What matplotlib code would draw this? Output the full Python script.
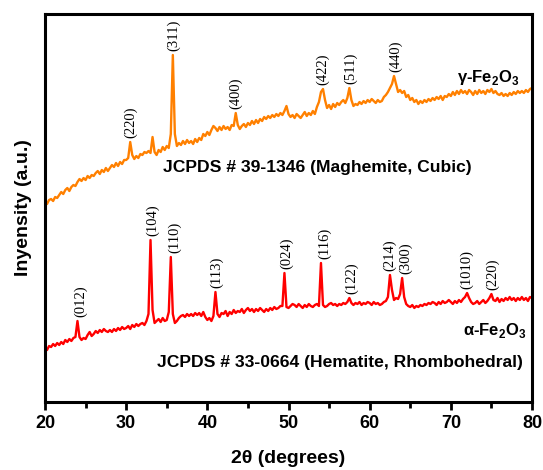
import numpy as np
import matplotlib
matplotlib.use("Agg")
import matplotlib.pyplot as plt

plt.rcParams["font.family"] = ["Liberation Sans", "DejaVu Sans"]
plt.rcParams["mathtext.fontset"] = "custom"
plt.rcParams["mathtext.rm"] = "Liberation Sans:bold"
plt.rcParams["mathtext.bf"] = "Liberation Sans:bold"

# 2theta grid, 0.25 degree steps from 20 to 80
two_theta = np.arange(20.0, 80.001, 0.25)

# gamma-Fe2O3 (maghemite) intensity, a.u.
gamma_counts = [
    200, 198, 202, 203, 201, 205, 204, 207,
    210, 208, 212, 214, 211, 215, 217, 216,
    220, 223, 221, 224, 222, 226, 224, 227,
    226, 229, 231, 228, 232, 230, 234, 231,
    234, 237, 235, 239, 236, 240, 238, 242,
    242, 244, 260, 247, 243, 246, 244, 248,
    247, 250, 249, 251, 249, 265, 250, 247,
    252, 250, 255, 252, 256, 254, 268, 347,
    268, 256, 259, 257, 261, 258, 262, 259,
    261, 258, 263, 260, 264, 262, 268, 266,
    270, 267, 272, 276, 274, 271, 275, 272,
    276, 273, 275, 272, 277, 276, 289, 277,
    273, 276, 278, 275, 279, 277, 281, 278,
    282, 279, 283, 281, 285, 283, 286, 284,
    287, 285, 288, 286, 289, 287, 291, 296,
    288, 285, 287, 284, 288, 286, 284, 287,
    290, 286, 289, 287, 291, 288, 295, 300,
    310, 313, 302, 294, 297, 293, 298, 295,
    299, 297, 300, 302, 299, 304, 314, 302,
    296, 298, 297, 300, 298, 301, 299, 302,
    300, 303, 301, 299, 302, 300, 301, 305,
    307, 310, 314, 318, 326, 318, 310, 312,
    309, 311, 305, 307, 302, 304, 300, 302,
    298, 301, 299, 302, 300, 303, 301, 304,
    302, 305, 303, 306, 302, 306, 305, 308,
    306, 310, 307, 311, 308, 312, 309, 311,
    308, 312, 310, 307, 311, 308, 312, 309,
    311, 308, 312, 310, 313, 309, 311, 308,
    307, 309, 306, 308, 306, 309, 307, 310,
    308, 311, 309, 311, 309, 312, 310, 313,
    314,
]

# alpha-Fe2O3 (hematite) intensity, a.u.
alpha_counts = [
    54, 52, 56, 55, 58, 56, 59, 57,
    60, 58, 62, 60, 63, 61, 64, 65,
    81, 65, 62, 64, 63, 67, 70, 66,
    68, 71, 69, 72, 70, 73, 71, 70,
    72, 70, 73, 71, 74, 72, 75, 73,
    74, 76, 73, 77, 75, 78, 76, 78,
    79, 77, 81, 88, 162, 92, 79, 81,
    83, 80, 84, 81, 82, 90, 145, 88,
    79, 81, 84, 86, 87, 85, 88, 86,
    88, 86, 89, 87, 89, 86, 90, 85,
    82, 84, 81, 86, 110, 88, 85, 89,
    88, 91, 86, 90, 88, 92, 89, 91,
    90, 93, 89, 92, 94, 91, 93, 90,
    93, 91, 94, 92, 90, 93, 91, 94,
    92, 95, 93, 94, 96, 96, 129, 95,
    94, 96, 98, 97, 95, 98, 96, 94,
    97, 95, 98, 96, 95, 97, 98, 96,
    139, 97, 95, 96, 98, 99, 97, 98,
    96, 98, 97, 99, 98, 100, 104, 99,
    97, 99, 98, 100, 97, 99, 98, 100,
    99, 97, 100, 98, 99, 97, 98, 100,
    101, 105, 127, 112, 102, 104, 103, 108,
    124, 105, 98, 96, 95, 97, 94, 96,
    95, 97, 96, 98, 97, 99, 98, 100,
    99, 97, 100, 98, 101, 99, 100, 102,
    100, 98, 101, 99, 102, 100, 103, 105,
    109, 104, 100, 98, 99, 101, 98, 100,
    102, 99, 101, 104, 108, 102, 101, 104,
    100, 103, 101, 104, 102, 105, 102, 104,
    101, 104, 102, 105, 102, 104, 101, 105,
    104,
]

# peak labels: (hkl, label x position, peak top intensity)
gamma_hkl = ["(220)", "(311)", "(400)", "(422)", "(511)", "(440)"]
gamma_hkl_x = [30.5, 35.8, 43.5, 54.2, 57.6, 63.2]
gamma_hkl_top = [260, 347, 289, 313, 314, 326]

alpha_hkl = ["(012)", "(104)", "(110)", "(113)", "(024)", "(116)",
             "(122)", "(214)", "(300)", "(1010)", "(220)"]
alpha_hkl_x = [24.4, 33.3, 36.0, 41.2, 49.8, 54.5, 57.8, 62.5, 64.4, 72.0, 75.2]
alpha_hkl_top = [81, 162, 145, 110, 129, 139, 104, 127, 124, 109, 108]

fig = plt.figure(figsize=(5.43, 4.70), dpi=100)
ax = fig.add_axes([45 / 543, 68 / 470, 487 / 543, 388 / 470])

ax.plot(two_theta, gamma_counts, color="#ff8000", lw=1.7)
ax.plot(two_theta, alpha_counts, color="#ff0000", lw=1.7)

for lab, x, top in zip(gamma_hkl, gamma_hkl_x, gamma_hkl_top):
    ax.annotate(lab, (x, top), xytext=(0, 3), textcoords="offset points",
                rotation=90, ha="center", va="bottom", fontsize=10.5,
                family="Liberation Serif")
for lab, x, top in zip(alpha_hkl, alpha_hkl_x, alpha_hkl_top):
    ax.annotate(lab, (x, top), xytext=(0, 3), textcoords="offset points",
                rotation=90, ha="center", va="bottom", fontsize=10.5,
                family="Liberation Serif")

ax.text(0.242, 0.594, "JCPDS # 39-1346 (Maghemite, Cubic)", transform=ax.transAxes,
        fontsize=12.6, fontweight="bold", ha="left", va="baseline")
ax.text(0.230, 0.091, "JCPDS # 33-0664 (Hematite, Rhombohedral)", transform=ax.transAxes,
        fontsize=12.6, fontweight="bold", ha="left", va="baseline")
ax.text(0.845, 0.825, "γ-Fe$_2$O$_3$", transform=ax.transAxes,
        fontsize=12, fontweight="bold", ha="left", va="baseline")
ax.text(0.858, 0.173, "α-Fe$_2$O$_3$", transform=ax.transAxes,
        fontsize=12, fontweight="bold", ha="left", va="baseline")

ax.set_xlim(20, 80)
ax.set_ylim(0, 388)
ax.set_xticks([20, 30, 40, 50, 60, 70, 80])
ax.set_xticks([25, 35, 45, 55, 65, 75], minor=True)
ax.set_yticks([])
ax.tick_params(axis="x", which="major", direction="out", length=6, width=2,
               labelsize=13, pad=3)
ax.tick_params(axis="x", which="minor", direction="out", length=4, width=2)
for lbl in ax.get_xticklabels():
    lbl.set_fontweight("bold")
for sp in ax.spines.values():
    sp.set_linewidth(2.2)

ax.set_xlabel("2θ (degrees)", fontsize=14, fontweight="bold", labelpad=13)
ax.set_ylabel("Inyensity (a.u.)", fontsize=14, fontweight="bold", labelpad=9)

fig.savefig("out.png", dpi=100)
